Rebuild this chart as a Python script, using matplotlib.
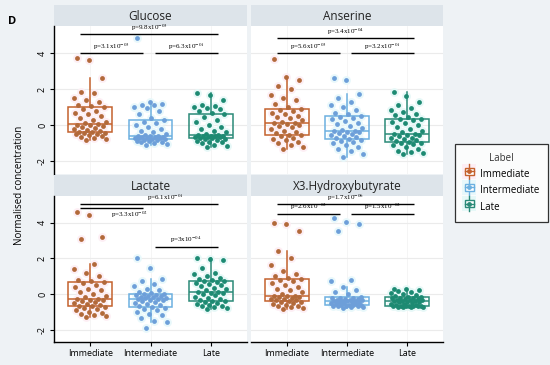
import numpy as np
import matplotlib
matplotlib.use('Agg')
import matplotlib.pyplot as plt
from matplotlib.patches import Rectangle
from matplotlib.lines import Line2D
from matplotlib.legend_handler import HandlerBase

groups = ['Immediate', 'Intermediate', 'Late']
metabolites = ['Glucose', 'Anserine', 'Lactate', 'X3.Hydroxybutyrate']

# normalised concentration values (per metabolite, per group)
glucose_imm = [-0.8, -0.78, -0.72, -0.65, -0.6, -0.55, -0.5, -0.47, -0.44, -0.42, -0.4,
               -0.35, -0.3, -0.25, -0.2, -0.15, -0.1, -0.05, 0.0, 0.02, 0.05,
               0.1, 0.2, 0.3, 0.4, 0.5, 0.6, 0.7, 0.8, 0.9, 1.0,
               1.05, 1.1, 1.3, 1.4, 1.5, 1.8, 1.85, 2.6, 3.6, 3.75]
glucose_int = [-1.1, -1.05, -1.0, -0.95, -0.9, -0.88, -0.85, -0.82, -0.8, -0.78, -0.75,
               -0.73, -0.72, -0.7, -0.68, -0.67, -0.65, -0.64, -0.62, -0.61, -0.6,
               -0.55, -0.5, -0.4, -0.3, -0.2, -0.1, 0.0, 0.1, 0.2, 0.3,
               0.4, 0.6, 0.8, 0.95, 1.0, 1.1, 1.15, 1.2, 1.3, 4.85]
glucose_late = [-1.2, -1.15, -1.1, -1.0, -0.95, -0.9, -0.85, -0.8, -0.78, -0.75, -0.7,
                -0.68, -0.66, -0.65, -0.63, -0.62, -0.6, -0.59, -0.58, -0.56, -0.55,
                -0.5, -0.4, -0.3, -0.2, -0.1, 0.0, 0.2, 0.3, 0.45, 0.6,
                0.7, 0.8, 0.9, 0.95, 1.0, 1.05, 1.1, 1.4, 1.65, 1.8]
anserine_imm = [-1.3, -1.2, -1.1, -1.0, -0.9, -0.8, -0.75, -0.7, -0.62, -0.56, -0.52,
                -0.45, -0.38, -0.3, -0.2, -0.12, -0.05, 0.0, 0.06, 0.1, 0.13,
                0.2, 0.3, 0.38, 0.45, 0.52, 0.6, 0.7, 0.78, 0.85, 0.9,
                1.0, 1.2, 1.4, 1.5, 1.7, 2.0, 2.2, 2.5, 2.7, 3.65]
anserine_int = [-1.76, -1.6, -1.45, -1.3, -1.2, -1.1, -1.0, -0.92, -0.85, -0.8, -0.76,
                -0.7, -0.65, -0.6, -0.55, -0.5, -0.45, -0.4, -0.36, -0.33, -0.31,
                -0.25, -0.15, -0.05, 0.05, 0.15, 0.25, 0.32, 0.4, 0.45, 0.5,
                0.6, 0.7, 0.85, 1.0, 1.1, 1.3, 1.5, 1.76, 2.5, 2.6]
anserine_late = [-1.6, -1.55, -1.5, -1.4, -1.3, -1.2, -1.1, -1.05, -1.0, -0.96, -0.93,
                 -0.88, -0.82, -0.78, -0.72, -0.68, -0.62, -0.56, -0.52, -0.49, -0.46,
                 -0.4, -0.3, -0.2, -0.1, 0.0, 0.1, 0.2, 0.28, 0.33, 0.37,
                 0.45, 0.55, 0.65, 0.75, 0.85, 0.95, 1.1, 1.3, 1.6, 1.85]
lactate_imm = [-1.3, -1.25, -1.2, -1.1, -1.05, -1.0, -0.9, -0.85, -0.8, -0.75, -0.7,
               -0.65, -0.6, -0.55, -0.5, -0.45, -0.4, -0.36, -0.33, -0.3, -0.28,
               -0.2, -0.1, 0.0, 0.1, 0.2, 0.3, 0.4, 0.5, 0.6, 0.65,
               0.75, 0.8, 1.0, 1.2, 1.4, 1.7, 3.1, 3.2, 4.45, 4.6]
lactate_int = [-1.9, -1.6, -1.5, -1.35, -1.2, -1.1, -1.0, -0.9, -0.85, -0.8, -0.74,
               -0.68, -0.62, -0.56, -0.5, -0.45, -0.4, -0.36, -0.32, -0.3, -0.28,
               -0.25, -0.22, -0.2, -0.17, -0.14, -0.1, -0.07, -0.04, -0.02, 0.0,
               0.05, 0.1, 0.2, 0.3, 0.45, 0.55, 0.7, 0.83, 1.45, 2.0]
lactate_late = [-0.83, -0.8, -0.75, -0.7, -0.65, -0.6, -0.55, -0.5, -0.45, -0.42, -0.4,
                -0.35, -0.3, -0.22, -0.15, -0.08, -0.02, 0.04, 0.08, 0.11, 0.13,
                0.2, 0.28, 0.35, 0.42, 0.5, 0.55, 0.6, 0.65, 0.7, 0.74,
                0.8, 0.85, 0.9, 1.0, 1.1, 1.2, 1.45, 1.9, 1.95, 2.0]
hb_imm = [-0.83, -0.8, -0.75, -0.7, -0.65, -0.6, -0.55, -0.5, -0.46, -0.43, -0.4,
          -0.36, -0.33, -0.3, -0.27, -0.24, -0.2, -0.17, -0.14, -0.12, -0.1,
          0.0, 0.1, 0.2, 0.3, 0.4, 0.5, 0.6, 0.7, 0.78, 0.83,
          0.9, 1.0, 1.1, 1.3, 1.6, 2.0, 2.4, 3.55, 3.95, 4.0]
hb_int = [-0.8, -0.75, -0.72, -0.7, -0.68, -0.66, -0.65, -0.64, -0.62, -0.61, -0.6,
          -0.58, -0.55, -0.53, -0.5, -0.48, -0.46, -0.44, -0.42, -0.41, -0.4,
          -0.38, -0.36, -0.34, -0.32, -0.3, -0.28, -0.25, -0.23, -0.21, -0.19,
          0.0, 0.1, 0.2, 0.37, 0.7, 0.8, 3.55, 3.9, 4.05, 4.25]
hb_late = [-0.75, -0.74, -0.72, -0.71, -0.7, -0.69, -0.68, -0.67, -0.66, -0.655, -0.65,
           -0.62, -0.6, -0.57, -0.54, -0.51, -0.48, -0.46, -0.44, -0.42, -0.4,
           -0.38, -0.36, -0.34, -0.32, -0.3, -0.28, -0.25, -0.23, -0.21, -0.19,
           -0.15, -0.1, -0.05, 0.0, 0.05, 0.1, 0.15, 0.2, 0.25, 0.28]

data = {
    'Glucose': [glucose_imm, glucose_int, glucose_late],
    'Anserine': [anserine_imm, anserine_int, anserine_late],
    'Lactate': [lactate_imm, lactate_int, lactate_late],
    'X3.Hydroxybutyrate': [hb_imm, hb_int, hb_late],
}

# pairwise tests: (group a, group b, p value text)
pvals = {
    'Glucose': [(1, 3, '9.8x10$^{-03}$'), (1, 2, '3.1x10$^{-03}$'), (2, 3, '6.3x10$^{-01}$')],
    'Anserine': [(1, 3, '3.4x10$^{-04}$'), (1, 2, '5.6x10$^{-03}$'), (2, 3, '3.2x10$^{-01}$')],
    'Lactate': [(1, 3, '6.1x10$^{-01}$'), (1, 2, '3.3x10$^{-02}$'), (2, 3, '3x10$^{-04}$')],
    'X3.Hydroxybutyrate': [(1, 3, '1.7x10$^{-06}$'), (1, 2, '2.6x10$^{-02}$'), (2, 3, '1.5x10$^{-02}$')],
}
# bracket heights per panel: top bracket, left pair, right pair
bracket_y = {
    'Glucose': (5.05, 4.0, 4.0),
    'Anserine': (4.83, 4.0, 4.0),
    'Lactate': (5.05, 4.85, 2.65),
    'X3.Hydroxybutyrate': (5.05, 4.5, 4.5),
}

box_col = ['#c4622d', '#6cb0e0', '#2b8a78']
pt_col = ['#b2693a', '#6d9fd9', '#1d8a72']
halo_col = ['#fdeef4', '#e8f8fb', '#e6f8f7']

plt.rcParams['font.family'] = ['Open Sans', 'DejaVu Sans']
plt.rcParams['mathtext.fontset'] = 'stix'

W, H = 550, 365
fig = plt.figure(figsize=(5.5, 3.65), dpi=100, facecolor='#eef2f5')


def px(x0, y0, x1, y1):
    return [x0 / W, 1 - y1 / H, (x1 - x0) / W, (y1 - y0) / H]


panels = {
    'Glucose': (54, 26, 247, 174, 5),
    'Anserine': (251, 26, 443, 174, 5),
    'Lactate': (54, 196, 247, 342, 175),
    'X3.Hydroxybutyrate': (251, 196, 443, 342, 175),
}

for k, name in enumerate(metabolites):
    x0, y0, x1, y1, sy = panels[name]
    sax = fig.add_axes(px(x0, sy, x1, y0))
    sax.set_facecolor('#dde4ea')
    sax.set_xticks([])
    sax.set_yticks([])
    for s in sax.spines.values():
        s.set_visible(False)
    sax.text(0.5, 0.45, name, ha='center', va='center', fontsize=8.5, color='#222222',
             transform=sax.transAxes)

    ax = fig.add_axes(px(x0, y0, x1, y1))
    ax.set_facecolor('white')
    ax.set_xlim(0.4, 3.6)
    ax.set_ylim(-2.7, 5.5)
    ax.set_yticks([-2, 0, 2, 4])
    ax.set_xticks([1, 2, 3])
    ax.grid(axis='y', color='#ebebeb', lw=0.8)
    ax.grid(axis='x', color='#f4f4f4', lw=0.6)
    ax.set_axisbelow(True)
    for s in ax.spines.values():
        s.set_visible(False)
    left = k % 2 == 0
    bottom = k >= 2
    if left:
        ax.spines['left'].set_visible(True)
        ax.spines['left'].set_color('black')
        ax.spines['left'].set_linewidth(1.0)
        ax.set_yticklabels(['-2', '0', '2', '4'], rotation=90, va='center', fontsize=6.5)
        ax.tick_params(axis='y', length=3, width=0.8, pad=2)
    else:
        ax.tick_params(axis='y', length=0, labelleft=False)
    if bottom:
        ax.spines['bottom'].set_visible(True)
        ax.spines['bottom'].set_color('black')
        ax.spines['bottom'].set_linewidth(1.0)
        ax.set_xticklabels(groups, fontsize=6.5)
        ax.tick_params(axis='x', length=3, width=0.8, pad=2)
    else:
        ax.tick_params(axis='x', length=0, labelbottom=False)

    vals = data[name]
    for g in range(3):
        v = np.array(vals[g])
        n = len(v)
        jit = ((np.arange(n) * 0.618034 + 0.37) % 1 - 0.5) * 0.55
        ax.scatter(g + 1 + jit, v, s=40, color=halo_col[g], lw=0, zorder=1)
    for g in range(3):
        ax.boxplot([vals[g]], positions=[g + 1], widths=0.72, patch_artist=True,
                   showfliers=False, manage_ticks=False,
                   boxprops=dict(facecolor='none', edgecolor=box_col[g], lw=1.1),
                   medianprops=dict(color=box_col[g], lw=1.1),
                   whiskerprops=dict(color=box_col[g], lw=1.1),
                   capprops=dict(lw=0), zorder=3)
    for g in range(3):
        v = np.array(vals[g])
        n = len(v)
        jit = ((np.arange(n) * 0.618034 + 0.37) % 1 - 0.5) * 0.55
        ax.scatter(g + 1 + jit, v, s=12, color=pt_col[g], lw=0, zorder=4)

    ytop, yl, yr = bracket_y[name]
    ys = [ytop, yl, yr]
    for (a, b, lab), yb in zip(pvals[name], ys):
        xa = a - 0.17
        xb = b + 0.12 if b == 3 else b - 0.12
        if a == 2:
            xa = a + 0.07
        ax.plot([xa, xb], [yb, yb], color='black', lw=1.0, zorder=5, solid_capstyle='butt')
        if name == 'Lactate' and (a, b) == (1, 2):
            ax.text((xa + xb) / 2 + 0.3, yb - 0.1, 'p=' + lab, ha='center', va='top',
                    fontsize=5, family='Liberation Serif', zorder=6)
        elif name == 'Lactate' and (a, b) == (1, 3):
            ax.text(2.25, yb + 0.05, 'p=' + lab, ha='center', va='bottom',
                    fontsize=5, family='Liberation Serif', zorder=6)
        else:
            ax.text((xa + xb) / 2, yb + 0.08, 'p=' + lab, ha='center', va='bottom',
                    fontsize=5, family='Liberation Serif', zorder=6)

fig.text(20 / W, 1 - 185 / H, 'Normalised concentration', rotation=90, ha='center',
         va='center', fontsize=7)
fig.text(8 / W, 1 - 22 / H, 'D', fontsize=8, fontweight='bold', ha='left', va='center')


class BoxHandler(HandlerBase):
    def create_artists(self, legend, orig, xd, yd, width, height, fontsize, trans):
        c = orig.get_color()
        bg = orig.get_markerfacecolor()
        w = width * 0.85
        cx = xd + width / 2
        cy = yd + height / 2
        back = Rectangle((cx - width / 2 - 1, yd - 2), width + 2, height + 4, facecolor=bg,
                         edgecolor='none', transform=trans)
        box = Rectangle((cx - w / 2, yd + height * 0.12), w, height * 0.76, facecolor='white',
                        edgecolor=c, lw=1.0, transform=trans)
        med = Line2D([cx - w / 2, cx + w / 2], [cy, cy], color=c, lw=1.0, transform=trans)
        wh = Line2D([cx, cx], [yd - 2, yd + height + 2], color=c, lw=1.0, transform=trans)
        dot = Line2D([cx], [cy], marker='o', ms=2.5, color=c, lw=0, transform=trans)
        return [back, wh, box, med, dot]


handles = [Line2D([], [], color=box_col[g], markerfacecolor=halo_col[g]) for g in range(3)]
leg = fig.legend(handles, groups, title='Label', loc='upper left',
                 bbox_to_anchor=(455 / W, 1 - 144 / H), fontsize=7, title_fontsize=7,
                 handler_map={Line2D: BoxHandler()}, frameon=True, fancybox=False,
                 handlelength=1.1, handleheight=1.1, handletextpad=0.6, borderpad=0.9,
                 labelspacing=0.55, borderaxespad=0)
leg.get_frame().set_edgecolor('black')
leg.get_frame().set_linewidth(0.9)
leg.get_title().set_color('#333333')

fig.savefig('out.png', dpi=100, facecolor=fig.get_facecolor())
